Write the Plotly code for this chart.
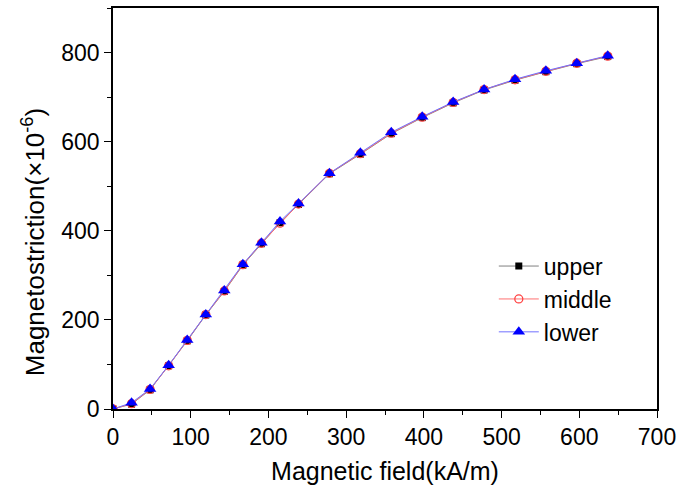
import plotly.graph_objects as go

field = [0, 23.9, 47.7, 71.6, 95.5, 119.4, 143.2, 167.1, 191.0, 214.9, 238.7,
         278.5, 318.3, 358.1, 397.9, 437.7, 477.5, 517.3, 557.0, 596.8, 636.6]
upper = [0, 11, 43, 97, 153, 211, 264, 323, 371, 418, 459,
         528, 572, 618, 654, 687, 716, 738, 757, 775, 791]
middle = [0, 12, 44, 97, 154, 212, 265, 324, 372, 417, 460,
          529, 573, 619, 655, 688, 717, 739, 758, 776, 792]
lower = [0, 14, 45, 98, 155, 212, 266, 325, 373, 421, 461,
         529, 575, 621, 656, 689, 717, 740, 759, 776, 793]

x_title = "Magnetic field(kA/m)"
y_title = "Magnetostriction(×10<sup>-6</sup>)"

font = "Liberation Sans, Arial, sans-serif"

fig = go.Figure()
fig.add_trace(go.Scatter(x=field, y=upper, name="upper", mode="lines+markers",
                         line=dict(color="#808080", width=1),
                         marker=dict(symbol="square", size=7, color="black")))
fig.add_trace(go.Scatter(x=field, y=middle, name="middle", mode="lines+markers",
                         line=dict(color="#ff7070", width=1),
                         marker=dict(symbol="circle-open", size=8, color="#ff4040",
                                     line=dict(width=1.3))))
fig.add_trace(go.Scatter(x=field, y=lower, name="lower", mode="lines+markers",
                         line=dict(color="#7070ff", width=1),
                         marker=dict(symbol="triangle-up", size=11, color="#0000ff")))

axis_common = dict(showline=True, linecolor="black", linewidth=1.5, mirror=True,
                   ticks="outside", ticklen=7, tickwidth=1.2, tickcolor="black",
                   showgrid=False, zeroline=False, automargin=False,
                   tickfont=dict(family=font, size=23, color="black"))

fig.update_xaxes(range=[0, 700], dtick=100, **axis_common,
                 minor=dict(ticks="outside", ticklen=4, dtick=50, tickcolor="black"),
                 title=dict(text=x_title,
                            font=dict(family=font, size=25, color="black"),
                            standoff=13))
fig.update_yaxes(range=[0, 900], dtick=200, **axis_common,
                 minor=dict(ticks="outside", ticklen=4, dtick=100, tickcolor="black"))

fig.add_annotation(text=y_title, xref="paper", yref="paper",
                   x=-0.147, y=0.416, xanchor="center", yanchor="middle",
                   textangle=-90, showarrow=False,
                   font=dict(family=font, size=26, color="black"))

fig.update_layout(width=692, height=485, plot_bgcolor="white", paper_bgcolor="white",
                  margin=dict(l=113, r=35, t=8, b=76),
                  legend=dict(x=0.70, y=0.41, xanchor="left", yanchor="top",
                              bgcolor="rgba(0,0,0,0)",
                              font=dict(family=font, size=23, color="black"),
                              itemwidth=40, tracegroupgap=0))

fig.write_html("out.html", config={"displayModeBar": False},
               post_script="document.body.style.margin='0px';")
